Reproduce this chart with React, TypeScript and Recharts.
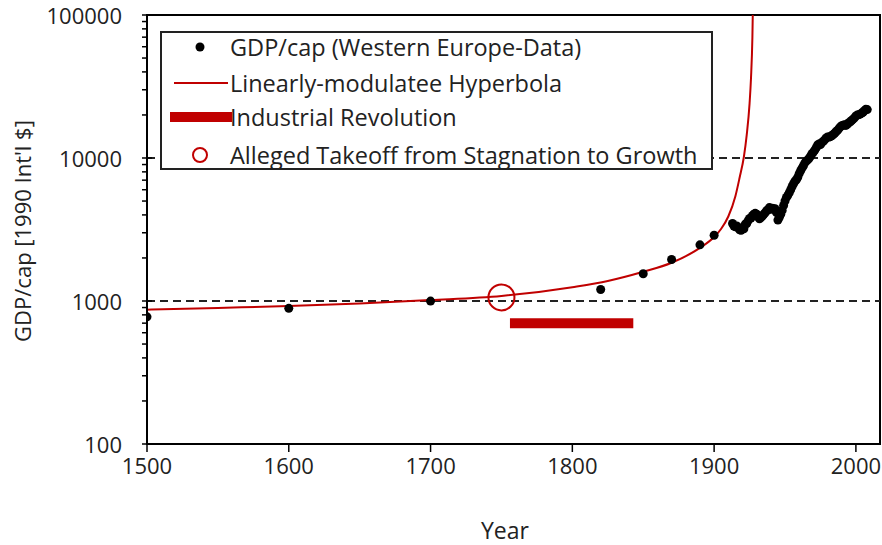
import { ComposedChart, Line, Scatter, XAxis, YAxis, ReferenceLine, ReferenceArea, Legend } from 'recharts';

const FONT = '"Open Sans", Lato, sans-serif';
const RED = '#c00000';
const INK = '#222';

// Western Europe GDP per capita, sparse early estimates
const sparseYears = [1500, 1600, 1700, 1820, 1850, 1870, 1890, 1900];
const sparseGdp = [775, 889, 998, 1204, 1550, 1950, 2470, 2880];

// annual series from 1913 on
const annualStart = 1913;
const annualGdp = [
  3480, 3340, 3300, 3350, 3250, 3150, 3120, 3250, 3200, 3450,
  3480, 3650, 3780, 3800, 3950, 4050, 4100, 4050, 3880, 3760,
  3830, 3920, 4040, 4140, 4280, 4350, 4500, 4380, 4460, 4400,
  4420, 4150, 3680, 3850, 4050, 4300, 4650, 5000, 5300, 5480,
  5720, 6000, 6320, 6600, 6880, 7050, 7330, 7780, 8150, 8500,
  8830, 9250, 9500, 9700, 9950, 10300, 10700, 11000, 11350, 11800,
  12350, 12550, 12400, 12850, 13100, 13400, 13800, 14000, 14000, 14100,
  14300, 14600, 14900, 15250, 15600, 16050, 16500, 16800, 16950, 17050,
  16900, 17300, 17650, 17900, 18300, 18700, 19100, 19700, 19950, 20100,
  20250, 20600, 20900, 21400, 21900, 21800,
];

// linearly-modulated hyperbola
const hyperYears = [1500, 1550, 1600, 1650, 1700, 1750, 1800, 1825, 1850, 1870, 1890, 1900, 1905, 1910, 1915, 1918, 1921, 1923, 1925, 1926, 1927, 1927.6];
const hyperGdp = [870, 895, 922, 962, 1015, 1085, 1250, 1380, 1600, 1850, 2350, 2800, 3200, 3900, 5400, 7300, 10200, 14500, 24000, 36000, 70000, 160000];

const industrialYears = [1756, 1843];
const industrialLevel = 700;

const takeoffYear = 1750;
const takeoffGdp = 1060;

const xTicks = [1500, 1600, 1700, 1800, 1900, 2000];
const yMajor = [100, 1000, 10000, 100000];
const yMinor = [200, 300, 400, 500, 600, 700, 800, 900, 2000, 3000, 4000, 5000, 6000, 7000, 8000, 9000, 20000, 30000, 40000, 50000, 60000, 70000, 80000, 90000];

const legendLabels = [
  'GDP/cap (Western Europe-Data)',
  'Linearly-modulatee Hyperbola',
  'Industrial Revolution',
  'Alleged Takeoff from Stagnation to Growth',
];

const pointData = [
  ...sparseYears.map((year, i) => ({ year, gdp: sparseGdp[i] })),
  ...annualGdp.map((gdp, i) => ({ year: annualStart + i, gdp })),
];
const hyperData = hyperYears.map((year, i) => ({ year, gdp: hyperGdp[i] }));
const industrialData = industrialYears.map((year) => ({ year, gdp: industrialLevel }));
const takeoffData = [{ year: takeoffYear, gdp: takeoffGdp }];

const YTick = (props: any) => {
  const { x, y, payload } = props;
  const major = yMajor.includes(payload.value);
  return (
    <g>
      <line x1={x - 5} x2={major ? x + 5 : x} y1={y} y2={y} stroke="#000" strokeWidth={1.5} />
      {major && (
        <text x={x - 25} y={y} textAnchor="end" dominantBaseline="central" fontSize={22} fontFamily={FONT} fill={INK}>
          {payload.value}
        </text>
      )}
    </g>
  );
};

const markers = [
  <circle cx={38} cy={15} r={4.5} fill="#000" />,
  <line x1={12} x2={66} y1={15} y2={15} stroke={RED} strokeWidth={2} />,
  <rect x={8} y={10} width={62} height={10} fill={RED} />,
  <circle cx={38} cy={15} r={7} fill="none" stroke={RED} strokeWidth={2} />,
];
const rowCenters = [16, 52, 86, 124];

const LegendBox = () => (
  <div
    style={{
      position: 'relative',
      width: 553,
      height: 139,
      border: '2px solid #222',
      boxSizing: 'border-box',
      background: '#fff',
      fontFamily: FONT,
      fontSize: 23.5,
      color: INK,
    }}
  >
    {legendLabels.map((label, i) => (
      <div key={label} style={{ position: 'absolute', left: 0, top: rowCenters[i] - 15 - 2, height: 30, lineHeight: '30px', whiteSpace: 'nowrap' }}>
        <svg width={70} height={30} style={{ position: 'absolute', left: 0, top: 0 }}>
          {markers[i]}
        </svg>
        <span style={{ position: 'absolute', left: 68, top: 0 }}>{label}</span>
      </div>
    ))}
  </div>
);

export default function App() {
  return (
    <div style={{ position: 'absolute', left: 0, top: 0, width: 882, height: 545, background: '#fff' }}>
      <ComposedChart width={882} height={545} margin={{ top: 15, right: 2, left: 0, bottom: 0 }}>
        <XAxis
          dataKey="year"
          type="number"
          domain={[1500, 2017]}
          allowDataOverflow
          ticks={xTicks}
          interval={0}
          height={101}
          tickSize={8}
          tickMargin={6}
          axisLine={{ stroke: '#000', strokeWidth: 2 }}
          tickLine={{ stroke: '#000', strokeWidth: 1.5 }}
          tick={{ fontSize: 22, fill: INK, fontFamily: FONT }}
          label={() => (
            <text x={505} y={530} textAnchor="middle" dominantBaseline="central" fontSize={23} fontFamily={FONT} fill={INK}>
              Year
            </text>
          )}
        />
        <YAxis
          type="number"
          scale="log"
          domain={[100, 100000]}
          allowDataOverflow
          ticks={[...yMajor, ...yMinor]}
          interval={0}
          width={147}
          tickSize={0}
          tickMargin={0}
          tickLine={false}
          axisLine={{ stroke: '#000', strokeWidth: 2 }}
          tick={<YTick />}
          label={() => (
            <text x={22} y={231} transform="rotate(-90 22 231)" textAnchor="middle" dominantBaseline="central" fontSize={22} fontFamily={FONT} fill={INK}>
              GDP/cap [1990 Int'l $]
            </text>
          )}
        />
        <ReferenceLine y={1000} stroke="#222" strokeWidth={1.8} strokeDasharray="8 5" />
        <ReferenceLine y={10000} stroke="#222" strokeWidth={1.8} strokeDasharray="8 5" />
        <Line data={industrialData} dataKey="gdp" stroke={RED} strokeWidth={10} dot={false} isAnimationActive={false} legendType="none" />
        <Line data={hyperData} dataKey="gdp" type="monotone" stroke={RED} strokeWidth={2} dot={false} isAnimationActive={false} legendType="none" />
        <Scatter
          data={pointData}
          dataKey="gdp"
          isAnimationActive={false}
          shape={(p: any) => <circle cx={p.cx} cy={p.cy} r={4.5} fill="#000" />}
          legendType="none"
        />
        <Scatter
          data={takeoffData}
          dataKey="gdp"
          isAnimationActive={false}
          shape={(p: any) => <circle cx={p.cx} cy={p.cy} r={13} fill="none" stroke={RED} strokeWidth={2} />}
          legendType="none"
        />
        <ReferenceArea x1={1500} x2={2017} y1={100} y2={100000} fill="none" stroke="#000" strokeWidth={2} ifOverflow="visible" />
        <Legend
          layout="horizontal"
          verticalAlign="middle"
          align="center"
          content={() => <LegendBox />}
          wrapperStyle={{ left: 160, top: 31, width: 553, height: 139 }}
        />
      </ComposedChart>
    </div>
  );
}
